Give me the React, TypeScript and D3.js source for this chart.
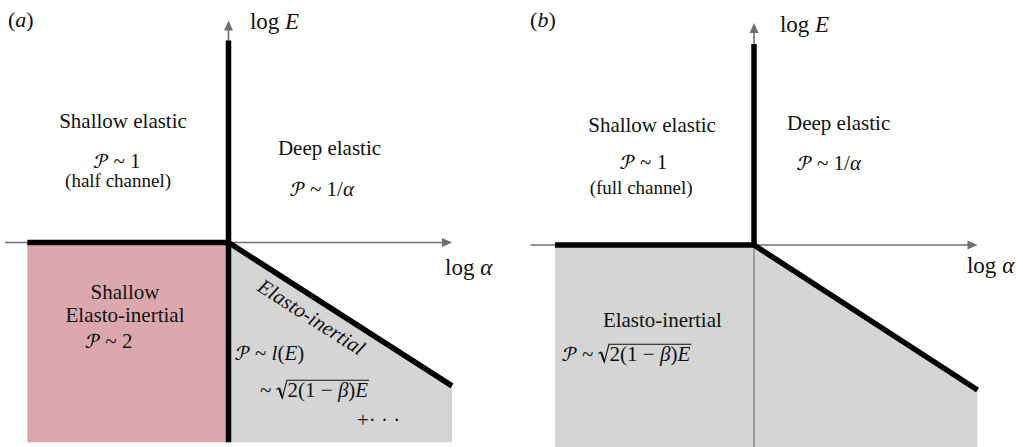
import React, { useEffect, useRef } from "react";
import * as d3 from "d3";

const WIDTH = 1023;
const HEIGHT = 447;
const FONT = "\"Liberation Serif\", \"Times New Roman\", serif";
const MATH_FONT = "\"STIX Two Math\", \"Liberation Serif\", serif";
const P = "\u{1D4AB}";

type Pt = [number, number];
type Seg = [string, boolean?];

// ---- data: regime diagram in (log α, log E) units, origin = critical point ----
const panelLabels = ["a", "b"];
const axisXRange: Pt = [-1, 1];
const axisYTop = 1.0;

const aShallowRegion: Pt[] = [[-0.9, 0], [0, 0], [0, -0.9], [-0.9, -0.9]];
const aInertialRegion: Pt[] = [[0, 0], [1, -0.646], [1, -0.9], [0, -0.9]];
const aBoundary: Pt[] = [[-0.9, 0], [0, 0], [1, -0.646]];
const aVertical: Pt[] = [[0, 0.91], [0, -0.9]];

const bInertialRegion: Pt[] = [[-0.89, 0], [0, 0], [1, -0.653], [1, -0.92], [-0.89, -0.92]];
const bBoundary: Pt[] = [[-0.89, 0], [0, 0], [1, -0.653]];
const bVertical: Pt[] = [[0, 0.905], [0, 0]];
const bDivider: Pt[] = [[0, 0], [0, -0.92]];

type Label = {
  panel: number;
  x: number;
  y: number;
  segs: Seg[];
  size: number;
  anchor?: string;
  rotateAlong?: Pt[];
  sqrt?: Seg[];
};

const labels: Label[] = [
  { panel: 0, x: -0.987, y: 0.971, segs: [["("], [panelLabels[0], true], [")"]], size: 22 },
  { panel: 0, x: 0.096, y: 0.962, segs: [["log "], ["E", true]], size: 23 },
  { panel: 0, x: -0.472, y: 0.518, segs: [["Shallow elastic"]], size: 21, anchor: "middle" },
  { panel: 0, x: -0.499, y: 0.336, segs: [[P], [" ~ 1"]], size: 21, anchor: "middle" },
  { panel: 0, x: -0.494, y: 0.248, segs: [["(half channel)"]], size: 19, anchor: "middle" },
  { panel: 0, x: 0.221, y: 0.394, segs: [["Deep elastic"]], size: 21 },
  { panel: 0, x: 0.275, y: 0.209, segs: [[P], [" ~ 1/"], ["α", true]], size: 21 },
  { panel: 0, x: 0.969, y: -0.146, segs: [["log "], ["α", true]], size: 23 },
  { panel: 0, x: -0.463, y: -0.254, segs: [["Shallow"]], size: 21, anchor: "middle" },
  { panel: 0, x: -0.463, y: -0.358, segs: [["Elasto-inertial"]], size: 21, anchor: "middle" },
  { panel: 0, x: -0.535, y: -0.475, segs: [[P], [" ~ 2"]], size: 21, anchor: "middle" },
  { panel: 0, x: 0.354, y: -0.363, segs: [["Elasto-inertial", true]], size: 21, anchor: "middle", rotateAlong: [[0, 0], [1, -0.646]] },
  { panel: 0, x: 0.029, y: -0.529, segs: [[P], [" ~ "], ["l", true], ["("], ["E", true], [")"]], size: 21 },
  { panel: 0, x: 0.141, y: -0.696, segs: [["~"]], size: 21, sqrt: [["2(1 − "], ["β", true], [")"], ["E", true]] },
  { panel: 0, x: 0.575, y: -0.831, segs: [["+· · ·"]], size: 21 },

  { panel: 1, x: -1.002, y: 0.982, segs: [["("], [panelLabels[1], true], [")"]], size: 22 },
  { panel: 1, x: 0.116, y: 0.959, segs: [["log "], ["E", true]], size: 23 },
  { panel: 1, x: -0.456, y: 0.509, segs: [["Shallow elastic"]], size: 21, anchor: "middle" },
  { panel: 1, x: -0.494, y: 0.342, segs: [[P], [" ~ 1"]], size: 21, anchor: "middle" },
  { panel: 1, x: -0.505, y: 0.230, segs: [["(full channel)"]], size: 19, anchor: "middle" },
  { panel: 1, x: 0.148, y: 0.518, segs: [["Deep elastic"]], size: 21 },
  { panel: 1, x: 0.192, y: 0.338, segs: [[P], [" ~ 1/"], ["α", true]], size: 21 },
  { panel: 1, x: 0.953, y: -0.126, segs: [["log "], ["α", true]], size: 23 },
  { panel: 1, x: -0.41, y: -0.369, segs: [["Elasto-inertial"]], size: 21, anchor: "middle" },
  { panel: 1, x: -0.859, y: -0.523, segs: [[P], [" ~"]], size: 21, sqrt: [["2(1 − "], ["β", true], [")"], ["E", true]] },
];

// layout (pixel origin of each panel's axes)
const panelOrigins: Pt[] = [[228.5, 242.5], [754, 245]];
const HALF_W = 223.5;
const HALF_H = 222;

const PINK = "#dba9ad";
const GRAY = "#d5d5d5";
const AXIS = "#6e6e6e";

export default function App() {
  const ref = useRef<SVGSVGElement>(null);

  useEffect(() => {
    const svg = d3.select(ref.current);
    svg.selectAll("*").remove();

    const scales = panelOrigins.map(([ox, oy]) => ({
      x: d3.scaleLinear().domain([-1, 1]).range([ox - HALF_W, ox + HALF_W]),
      y: d3.scaleLinear().domain([-1, 1]).range([oy + HALF_H, oy - HALF_H]),
    }));

    const drawPanel = (i: number) => {
      const { x, y } = scales[i];
      const g = svg.append("g");
      const line = d3.line<Pt>().x((d) => x(d[0])).y((d) => y(d[1]));
      const area = (pts: Pt[]) => line(pts) + "Z";

      if (i === 0) {
        g.append("path").attr("d", area(aShallowRegion)).attr("fill", PINK);
        g.append("path").attr("d", area(aInertialRegion)).attr("fill", GRAY);
      } else {
        g.append("path").attr("d", area(bInertialRegion)).attr("fill", GRAY);
        g.append("path").attr("d", line(bDivider)).attr("stroke", "#808080").attr("stroke-width", 1.3).attr("fill", "none");
      }

      const x0 = x(axisXRange[0]);
      const x1 = x(axisXRange[1]);
      const yo = y(0);
      const xo = x(0);
      const yt = y(axisYTop);
      const AL = 10, AW = 4.5;
      g.append("line").attr("x1", x0).attr("x2", x1 - AL + 1).attr("y1", yo).attr("y2", yo)
        .attr("stroke", AXIS).attr("stroke-width", 1.6);
      g.append("path").attr("d", `M${x1},${yo}L${x1 - AL},${yo - AW}L${x1 - AL},${yo + AW}Z`).attr("fill", AXIS);
      g.append("line").attr("x1", xo).attr("x2", xo).attr("y1", yo).attr("y2", yt + AL - 1)
        .attr("stroke", AXIS).attr("stroke-width", 1.6);
      g.append("path").attr("d", `M${xo},${yt}L${xo - AW},${yt + AL}L${xo + AW},${yt + AL}Z`).attr("fill", AXIS);

      const bnd = i === 0 ? aBoundary : bBoundary;
      const vert = i === 0 ? aVertical : bVertical;
      g.append("path").attr("d", line(bnd)).attr("stroke", "#000").attr("stroke-width", 5.5)
        .attr("fill", "none").attr("stroke-linejoin", "miter");
      g.append("path").attr("d", line(vert)).attr("stroke", "#000").attr("stroke-width", 5.5).attr("fill", "none");
    };
    drawPanel(0);
    drawPanel(1);

    const addSegs = (t: any, segs: Seg[]) => {
      segs.forEach(([s, it]) => {
        const ts = t.append("tspan").text(s).attr("font-style", it ? "italic" : "normal");
        if (s === P) ts.style("font-family", MATH_FONT);
      });
    };

    labels.forEach((lb) => {
      const { x, y } = scales[lb.panel];
      const px = x(lb.x);
      const py = y(lb.y);
      const t = svg.append("text")
        .attr("x", px).attr("y", py)
        .style("font-family", FONT)
        .style("white-space", "pre")
        .attr("font-size", lb.size)
        .attr("fill", "#111")
        .attr("text-anchor", lb.anchor || "start");
      addSegs(t, lb.segs);
      if (lb.rotateAlong) {
        const [p0, p1] = lb.rotateAlong;
        const ang = (Math.atan2(y(p1[1]) - y(p0[1]), x(p1[0]) - x(p0[0])) * 180) / Math.PI;
        t.attr("transform", `rotate(${ang},${px},${py})`);
      }
      if (lb.sqrt) {
        const fs = lb.size;
        const w1 = (t.node() as SVGTextElement).getComputedTextLength();
        const sx = px + w1 + 0.22 * fs;
        const rx = sx + 0.55 * fs;
        const r = svg.append("text")
          .attr("x", rx).attr("y", py)
          .style("font-family", FONT)
          .style("white-space", "pre")
          .attr("font-size", fs)
          .attr("fill", "#111");
        addSegs(r, lb.sqrt);
        const w2 = (r.node() as SVGTextElement).getComputedTextLength();
        const top = py - 0.8 * fs;
        svg.append("path")
          .attr("d", `M${sx + 0.02 * fs},${py - 0.36 * fs}L${sx + 0.13 * fs},${py - 0.43 * fs}L${sx + 0.3 * fs},${py + 0.05 * fs}L${sx + 0.52 * fs},${top}L${rx + w2 + 1},${top}`)
          .attr("fill", "none").attr("stroke", "#111").attr("stroke-width", 1.1).attr("stroke-linejoin", "miter");
        svg.append("path")
          .attr("d", `M${sx + 0.15 * fs},${py - 0.42 * fs}L${sx + 0.3 * fs},${py + 0.02 * fs}`)
          .attr("fill", "none").attr("stroke", "#111").attr("stroke-width", 2);
      }
    });
  }, []);

  return (
    <svg
      ref={ref}
      width={WIDTH}
      height={HEIGHT}
      style={{ position: "absolute", left: 0, top: 0, background: "#fff" }}
    />
  );
}
